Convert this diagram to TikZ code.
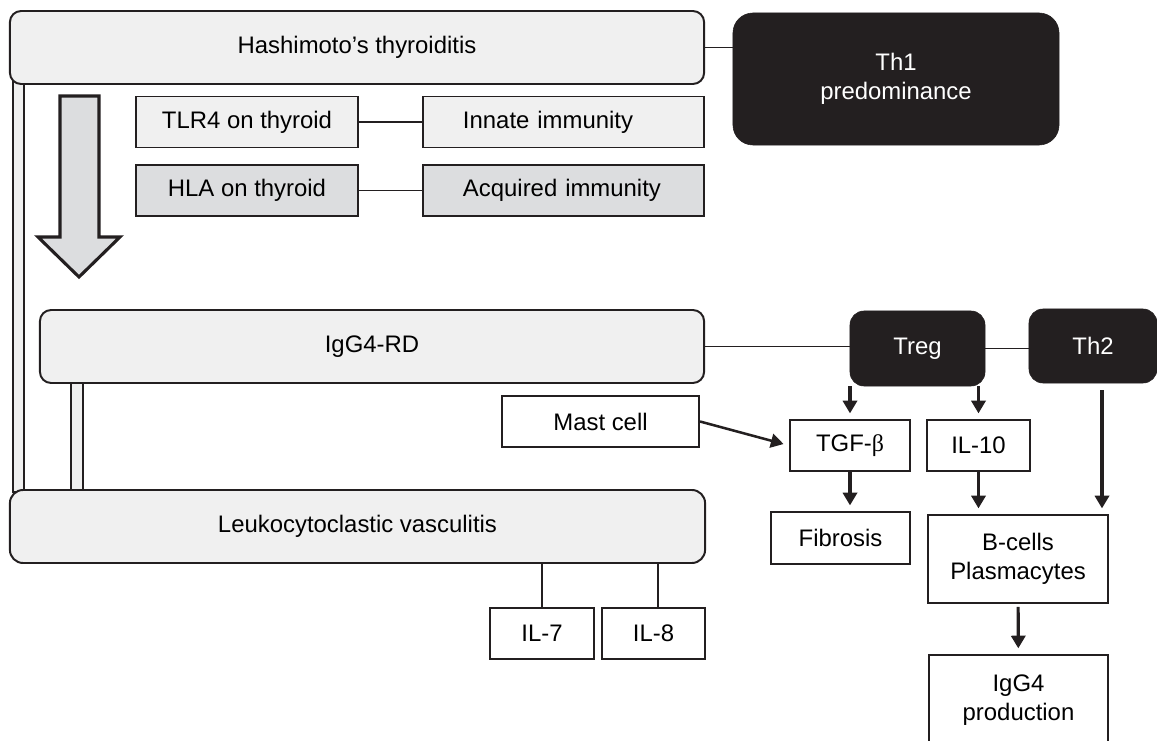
\documentclass[tikz,border=0pt]{standalone}
\usepackage{fontspec}
\setmainfont{Liberation Sans}
\newfontfamily\greekfont{Liberation Serif}
\usetikzlibrary{arrows.meta}
\definecolor{paleGray}{HTML}{F0F0F0}
\definecolor{midGray}{HTML}{DCDDDF}
\definecolor{inkBlack}{HTML}{231F20}

\begin{document}
\begin{tikzpicture}[x=0.025cm, y=-0.025cm,
        font=\fontsize{17}{21}\selectfont,
        every node/.style={inner sep=0pt, align=center},
        disease/.style={draw=inkBlack, fill=paleGray, line width=1.4pt, rounded corners=0.28cm, minimum height=1.825cm},
        tcell/.style={draw=inkBlack, fill=inkBlack, text=white, rounded corners=0.35cm},
        factor/.style={draw=inkBlack, line width=1.4pt, minimum height=1.275cm},
        immunity/.style={factor, align=left, text width=5.025cm, inner xsep=1.0cm},
        link/.style={draw=inkBlack, line width=1.4pt},
        arr/.style={-{Triangle[length=9pt, width=10pt]}, draw=inkBlack, line width=2.2pt, shorten >=4pt}]
    \useasboundingbox (0,0) rectangle (1157,741);
        % bars joining the disease boxes
        \draw[link, fill=paleGray] (13,80) rectangle (24,492);
        \draw[link, fill=paleGray] (71,380) rectangle (83,492);
        % big arrow
        \draw[inkBlack, line width=2.2pt, fill=midGray, line join=miter]
            (60,96) -- (99,96) -- (99,237) -- (120,237) -- (79,277) -- (38,237) -- (60,237) -- cycle;
        % disease boxes
        \node[disease, minimum width=17.35cm] (hashimoto) at (357,47.5) {Hashimoto’s thyroiditis};
        \node[disease, minimum width=16.6cm] (igg) at (372,346.5) {IgG4-RD};
        \node[disease, minimum width=17.375cm, rounded corners=0.33cm] (leuko) at (357.5,526.5) {Leukocytoclastic vasculitis};
        % T helper cells
        \node[tcell, rounded corners=0.5cm, minimum width=8.15cm, minimum height=3.3cm] (th1) at (896,79) {Th1\\predominance};
        \node[tcell, minimum width=3.375cm, minimum height=1.875cm] (treg) at (917.5,348.5) {Treg};
        \node[tcell, minimum width=3.2cm, minimum height=1.85cm] (th2) at (1093,346) {Th2};
        % thyroid factors
        \node[factor, fill=paleGray, minimum width=5.55cm] (tlr) at (247,122) {TLR4 on thyroid};
        \node[immunity, fill=paleGray] (innate) at (563.5,122) {Innate immunity};
        \node[factor, fill=midGray, minimum width=5.55cm] (hla) at (247,190.5) {HLA on thyroid};
        \node[immunity, fill=midGray] (acquired) at (563.5,190.5) {Acquired immunity};
        % cytokines and cells
        \node[factor, fill=white, minimum width=4.925cm] (mast) at (600.5,421.5) {Mast cell};
        \node[factor, fill=white, minimum width=3cm] (tgf) at (850,445.5) {TGF-{\greekfont β}};
        \node[factor, fill=white, minimum width=2.575cm] (il10) at (978.5,445.5) {IL-10};
        \node[factor, fill=white, minimum width=3.475cm, minimum height=1.3cm] (fibrosis) at (840.5,538) {Fibrosis};
        \node[factor, fill=white, minimum width=4.5cm, minimum height=2.2cm] (bcells) at (1018,559) {B-cells\\Plasmacytes};
        \node[factor, fill=white, minimum width=4.475cm, minimum height=2.25cm] (production) at (1018.5,700) {IgG4\\production};
        \node[factor, fill=white, minimum width=2.6cm] (il7) at (542,633.5) {IL-7};
        \node[factor, fill=white, minimum width=2.575cm] (il8) at (653.5,633.5) {IL-8};
        % connectors
        \draw[link] (hashimoto.east) -- (hashimoto.east -| th1.west);
        \draw[link] (tlr) -- (innate);
        \draw[link] (hla) -- (acquired);
        \draw[link] (igg.east) -- (igg.east -| treg.west);
        \draw[link] (treg.east) -- (treg.east -| th2.west);
        \draw[link] (il7.north |- leuko.south) -- (il7.north);
        \draw[link] ([xshift=0.11cm]il8.north |- leuko.south) -- ([xshift=0.11cm]il8.north);
        \draw[arr] (tgf.north |- treg.south) -- (tgf.north);
        \draw[arr] (il10.north |- treg.south) -- (il10.north);
        \draw[arr, shorten <=5pt] ([xshift=0.225cm]th2.south) -- ([xshift=0.225cm]th2.south |- bcells.north);
        \draw[arr, line width=1.8pt] (mast.east) -- (tgf.west);
        \draw[arr] (tgf.south) -- (tgf.south |- fibrosis.north);
        \draw[arr] (il10.south) -- (il10.south |- bcells.north);
        \draw[arr, shorten <=2pt] (bcells) -- (production);
    \end{tikzpicture}
\end{document}
